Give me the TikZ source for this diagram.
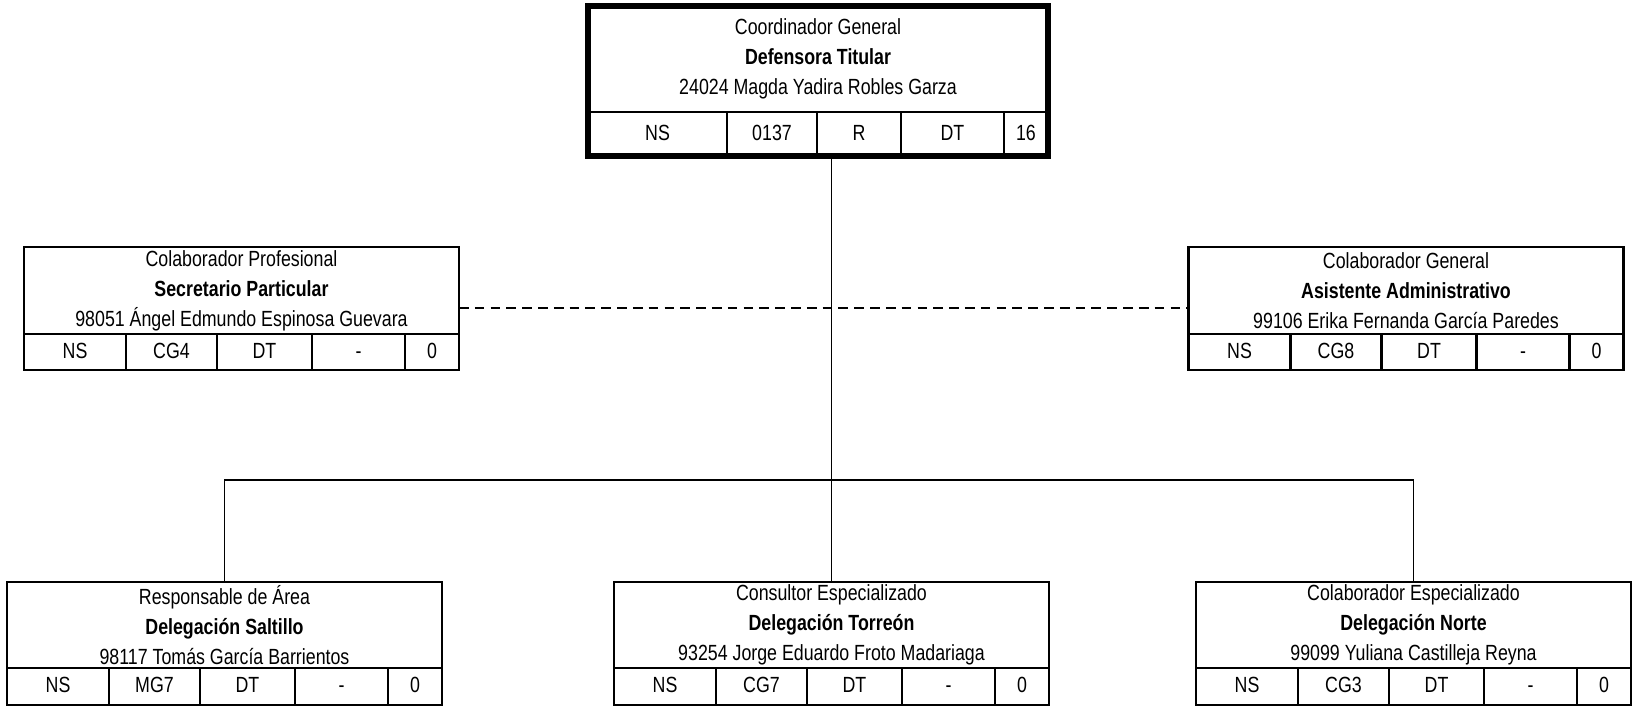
\documentclass[tikz,border=0pt]{standalone}
\usepackage{fontspec}
\setmainfont{Liberation Sans}[FakeStretch=0.81]
\usepackage{xcolor}
\usepackage{tikz}
\usetikzlibrary{positioning}

\begin{document}
\begin{tikzpicture}[
        x=0.02cm, y=-0.02cm,
        font=\fontsize{12.5pt}{17pt}\selectfont,
        cabecera/.style={
            rectangle,
            draw,
            line width=1.4pt,
            align=center,
            inner sep=0pt,
            outer sep=0pt,
            minimum width=8.7cm,
            minimum height=1.73cm
        },
        celda/.style={
            rectangle,
            draw,
            line width=1.3pt,
            inner sep=0pt,
            outer sep=0pt,
            anchor=north west,
            text height=0.72em,
            text depth=0pt,
            minimum height=0.73cm
        },
        ca/.style={celda, minimum width=2.04cm},
        cb/.style={celda, minimum width=1.82cm},
        cc/.style={celda, minimum width=1.90cm},
        cd/.style={celda, minimum width=1.86cm},
        ce/.style={celda, minimum width=1.08cm},
        linea/.style={line width=1.0pt},
        punteada/.style={line width=1.0pt, dash pattern=on 5.5pt off 3.5pt}
    ]

    \useasboundingbox (0,0) rectangle (1636,707);

    % ---------- Top: Defensora Titular ----------
    \node[cabecera, minimum width=9.2cm, minimum height=2.12cm, line width=1.2pt] (tit) at (818,59)
        {Coordinador General\\
         \textbf{Defensora Titular}\\
         24024 Magda Yadira Robles Garza};
    \node[celda, minimum width=2.78cm, minimum height=0.88cm] (tit-1) at (tit.south west) {NS};
    \node[celda, minimum width=1.80cm, minimum height=0.88cm, right=0pt of tit-1] (tit-2) {0137};
    \node[celda, minimum width=1.68cm, minimum height=0.88cm, right=0pt of tit-2] (tit-3) {R};
    \node[celda, minimum width=2.06cm, minimum height=0.88cm, right=0pt of tit-3] (tit-4) {DT};
    \node[celda, minimum width=0.88cm, minimum height=0.88cm, right=0pt of tit-4] (tit-5) {16};
    \draw[line width=3.8pt] (tit.north west) rectangle (tit-5.south east);

    % ---------- Middle row: staff ----------
    \node[cabecera] (sec) at (241.5,290.5)
        {Colaborador Profesional\\
         \textbf{Secretario Particular}\\
         98051 Ángel Edmundo Espinosa Guevara};
    \node[ca] (sec-1) at (sec.south west) {NS};
    \node[cb, right=0pt of sec-1] (sec-2) {CG4};
    \node[cc, right=0pt of sec-2] (sec-3) {DT};
    \node[cd, right=0pt of sec-3] (sec-4) {-};
    \node[ce, right=0pt of sec-4] (sec-5) {0};

    \node[cabecera] (asi) at (1406,290.5)
        {Colaborador General\\
         \textbf{Asistente Administrativo}\\
         99106 Erika Fernanda García Paredes};
    \node[ca] (asi-1) at (asi.south west) {NS};
    \node[cb, right=0pt of asi-1] (asi-2) {CG8};
    \node[cc, right=0pt of asi-2] (asi-3) {DT};
    \node[cd, right=0pt of asi-3] (asi-4) {-};
    \node[ce, right=0pt of asi-4] (asi-5) {0};

    % ---------- Bottom row: delegaciones ----------
    \node[cabecera] (sal) at (224.5,625)
        {Responsable de Área\\
         \textbf{Delegación Saltillo}\\
         98117 Tomás García Barrientos};
    \node[ca] (sal-1) at (sal.south west) {NS};
    \node[cb, right=0pt of sal-1] (sal-2) {MG7};
    \node[cc, right=0pt of sal-2] (sal-3) {DT};
    \node[cd, right=0pt of sal-3] (sal-4) {-};
    \node[ce, right=0pt of sal-4] (sal-5) {0};

    \node[cabecera] (tor) at (831.5,625)
        {Consultor Especializado\\
         \textbf{Delegación Torreón}\\
         93254 Jorge Eduardo Froto Madariaga};
    \node[ca] (tor-1) at (tor.south west) {NS};
    \node[cb, right=0pt of tor-1] (tor-2) {CG7};
    \node[cc, right=0pt of tor-2] (tor-3) {DT};
    \node[cd, right=0pt of tor-3] (tor-4) {-};
    \node[ce, right=0pt of tor-4] (tor-5) {0};

    \node[cabecera] (nor) at (1413.5,625)
        {Colaborador Especializado\\
         \textbf{Delegación Norte}\\
         99099 Yuliana Castilleja Reyna};
    \node[ca] (nor-1) at (nor.south west) {NS};
    \node[cb, right=0pt of nor-1] (nor-2) {CG3};
    \node[cc, right=0pt of nor-2] (nor-3) {DT};
    \node[cd, right=0pt of nor-3] (nor-4) {-};
    \node[ce, right=0pt of nor-4] (nor-5) {0};

    % Connectors
    \coordinate (ramal) at (831.5,480);
    \coordinate (enlace) at (831.5,308);
    \draw[linea] (tor.north) -- (tor.north |- tit-3.south);
    \draw[linea] (sal.north) |- (ramal) -| (nor.north);
    \draw[punteada] (enlace -| sec.east) -- (enlace -| asi.west);

\end{tikzpicture}
\end{document}
